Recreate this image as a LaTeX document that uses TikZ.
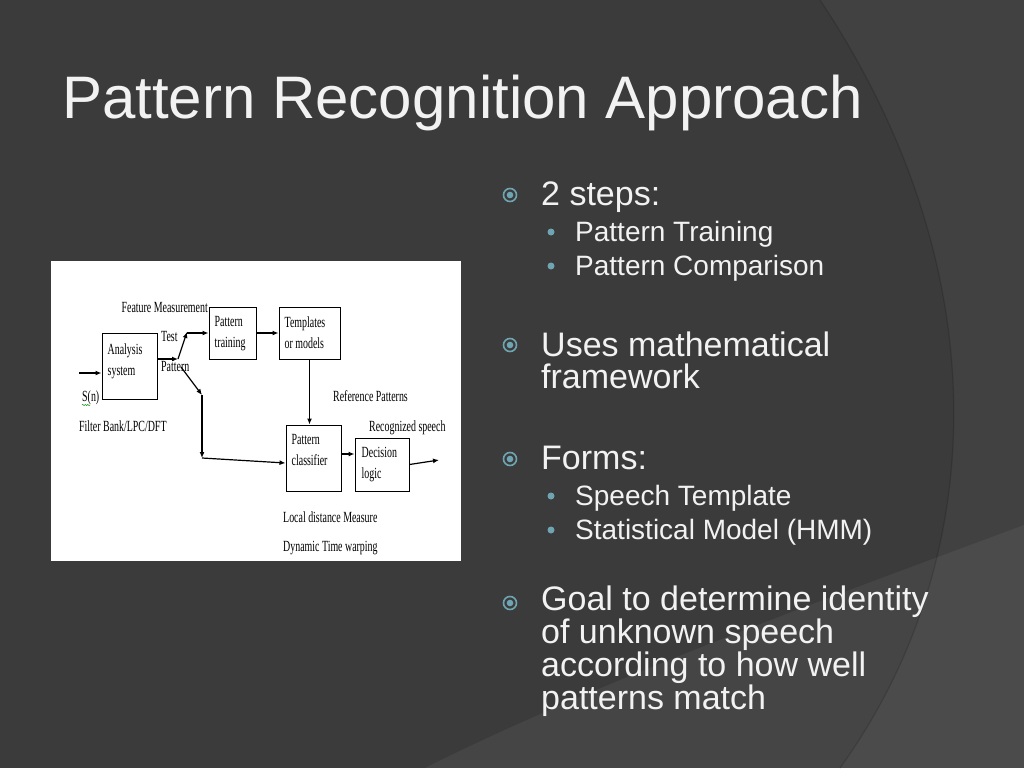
\documentclass[tikz,border=0pt]{standalone}
\usepackage{fontspec}
\setmainfont{Liberation Sans}
\newfontfamily\diagfont[FakeStretch=0.64]{Liberation Serif}
\usetikzlibrary{arrows.meta,decorations.pathmorphing}

\definecolor{bgc}{HTML}{3B3B3B}
\definecolor{tealc}{RGB}{111,165,178}
\definecolor{txtc}{HTML}{F2F2F2}

\tikzset{
  box/.style={draw, line width=1pt, inner sep=0pt},
  boxtext/.style={font=\diagfont\fontsize{15.5}{21}\selectfont, align=left, anchor=north west, inner sep=0pt},
  dlabel/.style={font=\diagfont\fontsize{15.5}{21}\selectfont, anchor=base west, inner sep=0pt},
  sig/.style={line width=1.2pt, -{Latex[length=6pt,width=5pt]}},
  ring/.style={circle, draw=tealc, line width=1.6pt, minimum size=13pt, inner sep=0pt,
    path picture={\fill[tealc] (path picture bounding box.center) circle (3.3pt);}},
  dot/.style={circle, fill=tealc, minimum size=7pt, inner sep=0pt},
  title/.style={font=\fontsize{60}{66}\selectfont, text=txtc, anchor=base west, inner sep=0pt},
  lvla/.style={font=\fontsize{34}{33}\selectfont, text=txtc, anchor=base west, inner sep=0pt},
  lvlb/.style={font=\fontsize{28}{32}\selectfont, text=txtc, anchor=base west, inner sep=0pt}
}

\begin{document}
\begin{tikzpicture}[x=1pt,y=-1pt]
\useasboundingbox (0,0) rectangle (1024,768);
% background
\fill[bgc] (0,0) rectangle (1024,768);
\fill[white,opacity=0.035] (820,0) .. controls (1000,270) and (990,560) .. (840,768) -- (1024,768) -- (1024,0) -- cycle;
\fill[white,opacity=0.055] (425,768) .. controls (600,680) and (850,590) .. (1024,525) -- (1024,768) -- cycle;
\draw[black,opacity=0.15,line width=1.2pt] (820,0) .. controls (1000,270) and (990,560) .. (840,768);

% title
\node[title] (ttl) at (62,118) {Pattern Recognition Approach};

% block diagram
\fill[white] (51,261) rectangle (461,561);
\node[box, minimum width=55pt, minimum height=66pt] (ana) at (129.5,366) {};
\node[boxtext] (anat) at ([shift={(6,11)}]ana.north west) {Analysis\\system};
\node[box, minimum width=47pt, minimum height=52pt] (ptrain) at (232.5,333) {};
\node[boxtext] (ptraint) at ([shift={(6,10)}]ptrain.north west) {Pattern\\training};
\node[box, minimum width=61pt, minimum height=52pt] (tmpl) at (309.5,333) {};
\node[boxtext] (tmplt) at ([shift={(6,10)}]tmpl.north west) {Templates\\or models};
\node[box, minimum width=55pt, minimum height=66pt] (pclass) at (313.5,458) {};
\node[boxtext] (pclasst) at ([shift={(6,10)}]pclass.north west) {Pattern\\classifier};
\node[box, minimum width=54pt, minimum height=53pt] (dlogic) at (382,464.5) {};
\node[boxtext] (dlogict) at ([shift={(7,10)}]dlogic.north west) {Decision\\logic};

\node[dlabel, anchor=base east] (feat) at (208,312) {Feature Measurement};
\node[dlabel] (test) at (161,341) {Test};
\node[dlabel] (patl) at (161,371) {Pattern};
\node[dlabel] (sn) at (82,401) {S(n)};
\node[dlabel] (filt) at (79,431) {Filter Bank/LPC/DFT};
\node[dlabel] (refp) at (333,401) {Reference Patterns};
\node[dlabel] (recog) at (369,431) {Recognized speech};
\node[dlabel] (ldm) at (283,522) {Local distance Measure};
\node[dlabel] (dtw) at (283,551) {Dynamic Time warping};
\draw[green!55!black, line width=0.5pt, decorate, decoration={snake,amplitude=0.6pt,segment length=2.5pt}] (82,405) -- (90,405);

\coordinate (sin) at (79,373);
\coordinate (sw) at (178,359);
\coordinate (swtop) at (187,332);
\coordinate (swlow) at (181,367);
\coordinate (drop) at (202,395);
\coordinate (bend) at (202,458);
\coordinate (sout) at (439,460);

\draw[sig] (sin) -- (sin -| ana.west);
\draw[sig] (sw -| ana.east) -- (sw);
\draw[sig] (sw) -- (swtop);
\draw[sig] (swtop |- ptrain.west) -- (ptrain.west);
\draw[sig] (swlow) -- (drop);
\draw[sig] (drop) -- (bend);
\draw[sig] (bend) -- ([yshift=-5pt]pclass.west);
\draw[sig] (ptrain) -- (tmpl);
\draw[sig] (tmpl.south) -- (tmpl.south |- pclass.north);
\draw[sig] ([yshift=4pt]pclass.east) -- ([yshift=4pt]pclass.east -| dlogic.west);
\draw[sig] (dlogic.east) -- (sout);

% bullet list
\node[ring] (r1) at (510,195) {};
\node[lvla] (t1) at (541,205) {2 steps:};
\node[dot] (d1) at (551,232) {};
\node[lvlb] (t1a) at (575,241) {Pattern Training};
\node[dot] (d2) at (551,266) {};
\node[lvlb] (t1b) at (575,275) {Pattern Comparison};

\node[ring] (r2) at (510,345) {};
\node[lvla] (t2) at (541,356) {Uses mathematical};
\node[lvla] (t2x) at (541,388) {framework};

\node[ring] (r3) at (510,459) {};
\node[lvla] (t3) at (541,469) {Forms:};
\node[dot] (d3) at (551,496) {};
\node[lvlb] (t3a) at (575,505) {Speech Template};
\node[dot] (d4) at (551,530) {};
\node[lvlb] (t3b) at (575,539) {Statistical Model (HMM)};

\node[ring] (r4) at (510,603) {};
\node[lvla] (t4) at (541,610) {Goal to determine identity};
\node[lvla] (t4x) at (541,643) {of unknown speech};
\node[lvla] (t4y) at (541,676) {according to how well};
\node[lvla] (t4z) at (541,709) {patterns match};
\end{tikzpicture}
\end{document}
